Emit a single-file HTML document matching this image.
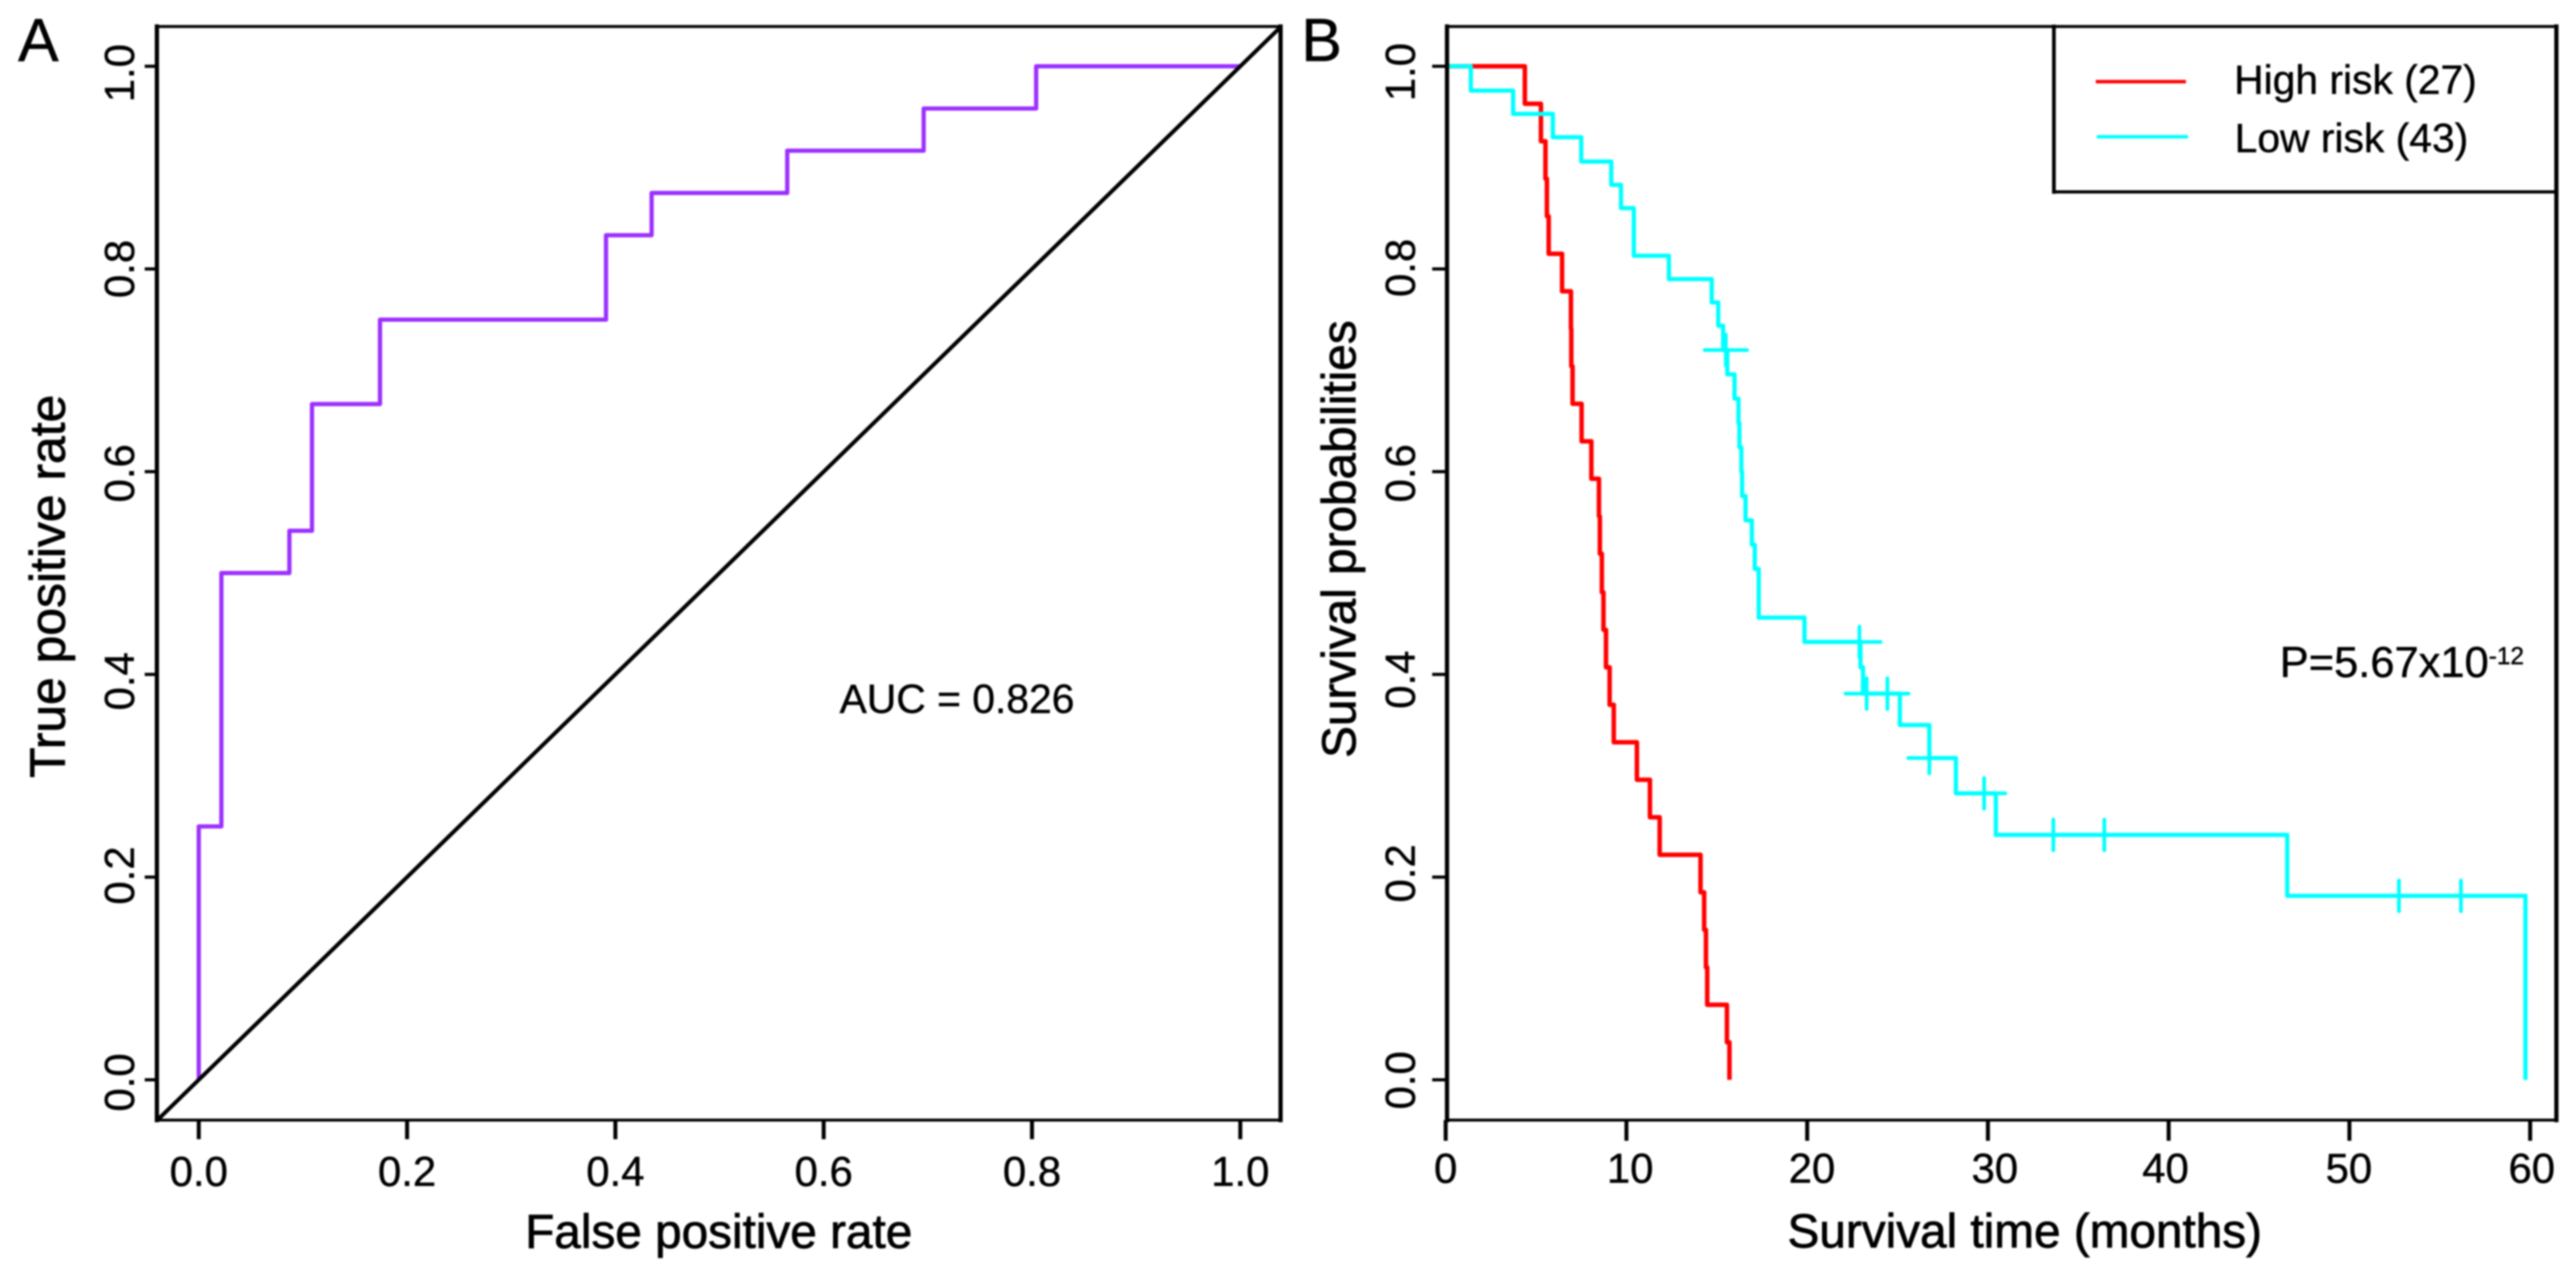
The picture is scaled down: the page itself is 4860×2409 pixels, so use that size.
<!DOCTYPE html>
<html lang="en">
<head>
<meta charset="utf-8">
<title>ROC curve and Kaplan-Meier survival curves</title>
<style>
html,body{margin:0;padding:0;background:#fff;}
body{width:4860px;height:2409px;overflow:hidden;}
svg{display:block;filter:blur(1.5px);}
text{font-family:"Liberation Sans",Arial,sans-serif;fill:#000;stroke:#000;stroke-width:0.8px;}
.tick{font-size:79px;}
.title{font-size:90px;stroke-width:1.4px;}
.letter{font-size:115px;}
.note{font-size:77px;}
</style>
</head>
<body>
<svg id="figure" xmlns="http://www.w3.org/2000/svg" width="4860" height="2409" viewBox="0 0 4860 2409">
  <rect x="0" y="0" width="4860" height="2409" fill="#fff"/>
  <defs>
    <clipPath id="clip-a"><rect x="296" y="50" width="2120" height="2063"/></clipPath>
  </defs>

  <g id="panel-a">
    <text class="letter" x="34" y="115">A</text>
    <g id="a-series" clip-path="url(#clip-a)"></g>
    <g id="a-axes"></g>
    <line x1="296" y1="50" x2="2416" y2="50" stroke="#000" stroke-width="5.5" stroke-linecap="square"/>
    <line x1="296" y1="2113" x2="2416" y2="2113" stroke="#000" stroke-width="5.5" stroke-linecap="square"/>
    <line x1="296" y1="50" x2="296" y2="2113" stroke="#000" stroke-width="8" stroke-linecap="square"/>
    <line x1="2416" y1="50" x2="2416" y2="2113" stroke="#000" stroke-width="8" stroke-linecap="square"/>
    <text class="title" x="1356" y="2354" text-anchor="middle">False positive rate</text>
    <text class="title" style="font-size:94px" transform="translate(122,1106) rotate(-90)" text-anchor="middle">True positive rate</text>
    <text class="note" x="1584" y="1345">AUC = 0.826</text>
  </g>

  <g id="panel-b">
    <text class="letter" x="2455" y="115">B</text>
    <g id="b-series"></g>
    <g id="b-axes"></g>
    <line x1="2730" y1="50" x2="4823" y2="50" stroke="#000" stroke-width="5.5" stroke-linecap="square"/>
    <line x1="2730" y1="2113" x2="4823" y2="2113" stroke="#000" stroke-width="5.5" stroke-linecap="square"/>
    <line x1="2730" y1="50" x2="2730" y2="2113" stroke="#000" stroke-width="8" stroke-linecap="square"/>
    <line x1="4823" y1="50" x2="4823" y2="2113" stroke="#000" stroke-width="8" stroke-linecap="square"/>
    <text class="title" x="3820" y="2353" text-anchor="middle">Survival time (months)</text>
    <text class="title" transform="translate(2557,1017) rotate(-90)" text-anchor="middle">Survival probabilities</text>
    <g id="legend">
      <line x1="3875" y1="50" x2="3875" y2="362" stroke="#000" stroke-width="7" stroke-linecap="square"/>
      <line x1="3875" y1="362" x2="4823" y2="362" stroke="#000" stroke-width="6" stroke-linecap="square"/>
      <line x1="3954" y1="154" x2="4124" y2="154" stroke="#ff0000" stroke-width="6.5"/>
      <line x1="3956" y1="258" x2="4128" y2="258" stroke="#00ffff" stroke-width="6.5"/>
      <text class="note" x="4215" y="177">High risk (27)</text>
      <text class="note" x="4216" y="287">Low risk (43)</text>
    </g>
    <text x="4301" y="1277" style="font-size:82px">P=5.67x10<tspan dy="-24" style="font-size:46px">-12</tspan></text>
  </g>
</svg>

<script>
// ROC chart data
const rocFpr = [0, 0.0217, 0.087, 0.1087, 0.174, 0.391, 0.4348, 0.565, 0.696, 0.804];
const rocTpr = [0.25, 0.5, 0.5417, 0.6667, 0.75, 0.8333, 0.875, 0.9167, 0.9583, 1.0];
const rocEnd = 1.0;
const diagonalEnds = [-0.04, 1.04];
const rocXTicks = [0, 0.2, 0.4, 0.6, 0.8, 1.0];
const rocYTicks = [0, 0.2, 0.4, 0.6, 0.8, 1.0];

// Survival chart data
const highTimes = [4.38, 5.27, 5.52, 5.6, 5.7, 6.44, 6.93, 6.95, 7.02, 7.52, 8.06, 8.48, 8.53, 8.64, 8.73, 8.87, 9.07, 9.3, 10.58, 11.3, 11.84, 14.1, 14.3, 14.4, 14.47, 15.56, 15.7];
const highSurvival = [0.963, 0.926, 0.889, 0.852, 0.815, 0.778, 0.741, 0.704, 0.667, 0.63, 0.593, 0.556, 0.519, 0.481, 0.444, 0.407, 0.37, 0.333, 0.296, 0.259, 0.222, 0.185, 0.148, 0.111, 0.074, 0.037, 0];
const lowTimes = [1.39, 3.73, 5.93, 7.5, 9.16, 9.7, 10.41, 12.35, 14.72, 15.08, 15.35, 15.58, 15.98, 16.2, 16.25, 16.36, 16.4, 16.59, 16.94, 17.1, 17.32, 19.85, 22.95, 23.09, 25.13, 26.76, 28.23, 30.44, 46.56, 59.74];
const lowSurvival = [0.976, 0.953, 0.93, 0.906, 0.883, 0.86, 0.813, 0.79, 0.767, 0.744, 0.72, 0.696, 0.672, 0.648, 0.624, 0.6, 0.576, 0.552, 0.528, 0.504, 0.456, 0.432, 0.407, 0.381, 0.35, 0.3175, 0.2826, 0.2416, 0.1815, 0];
const censorTimes = [15.5, 22.89, 23.29, 24.44, 26.76, 29.79, 33.62, 36.44, 52.74, 56.17];
const censorSurvival = [0.72, 0.432, 0.381, 0.381, 0.3175, 0.2826, 0.2416, 0.2416, 0.1815, 0.1815];
const survivalXTicks = [0, 10, 20, 30, 40, 50, 60];
const survivalYTicks = [0, 0.2, 0.4, 0.6, 0.8, 1.0];

const SVG_NS = 'http://www.w3.org/2000/svg';

// Axis functions
function xRoc(v) { return 375 + 1965 * v; }
function yRoc(v) { return 2037 - 1912 * v; }
function xSurv(t) { return 2727.5 + 34.1 * t; }
function ySurv(v) { return 2037 - 1912 * v; }

// Hand-placement offsets of printed labels in the source figure
function rocYLabelShift(v) { return {'1.0': 13, '0.8': 0, '0.6': 3, '0.4': 13, '0.2': -3, '0.0': 5}[v.toFixed(1)]; }
function survYLabelShift(v) { return {'1.0': 11, '0.8': -2, '0.6': 3, '0.4': 10, '0.2': -7, '0.0': 1}[v.toFixed(1)]; }
function survXLabelShift(t) { return {0: 0, 10: 7, 20: 9, 30: 13, 40: -6, 50: -1, 60: 3}[t]; }

function make(tag, parent, attrs) {
  const el = document.createElementNS(SVG_NS, tag);
  for (const k in attrs) el.setAttribute(k, attrs[k]);
  parent.appendChild(el);
  return el;
}

function kmPath(times, surv, xf, yf) {
  let d = 'M' + xf(0) + ' ' + yf(1);
  for (let i = 0; i < times.length; i++) {
    d += 'H' + xf(times[i]) + 'V' + yf(surv[i]);
  }
  return d;
}

function rocPath() {
  let d = 'M' + xRoc(rocFpr[0]) + ' ' + yRoc(0);
  for (let i = 0; i < rocFpr.length; i++) {
    d += 'H' + xRoc(rocFpr[i]) + 'V' + yRoc(rocTpr[i]);
  }
  d += 'H' + xRoc(rocEnd);
  return d;
}

const aSeries = document.getElementById('a-series');
const aAxes = document.getElementById('a-axes');
const bSeries = document.getElementById('b-series');
const bAxes = document.getElementById('b-axes');

// Panel A: ROC
const rocLine = make('path', aSeries, {d: rocPath(), fill: 'none', stroke: '#9b30ff', 'stroke-width': 8, 'stroke-linejoin': 'round'});



const diagLine = make('line', aSeries, {x1: xRoc(diagonalEnds[0]), y1: yRoc(diagonalEnds[0]), x2: xRoc(diagonalEnds[1]), y2: yRoc(diagonalEnds[1]), stroke: '#000', 'stroke-width': 7.5});



rocXTicks.forEach(function (v) {
  const t = make('line', aAxes, {x1: xRoc(v), y1: 2113, x2: xRoc(v), y2: 2149, stroke: '#000', 'stroke-width': 7.5});
  
  
  const l = make('text', aAxes, {x: xRoc(v), y: 2237, 'text-anchor': 'middle', class: 'tick'});
  l.textContent = v.toFixed(1);
  
  
});
rocYTicks.forEach(function (v) {
  const t = make('line', aAxes, {x1: 273, y1: yRoc(v), x2: 296, y2: yRoc(v), stroke: '#000', 'stroke-width': 6});
  
  
  const l = make('text', aAxes, {transform: 'translate(252.5,' + (yRoc(v) + rocYLabelShift(v)) + ') rotate(-90)', 'text-anchor': 'middle', class: 'tick'});
  l.textContent = v.toFixed(1);
  
  
});

// Panel B: survival
const highLine = make('path', bSeries, {d: kmPath(highTimes, highSurvival, xSurv, ySurv), fill: 'none', stroke: '#ff0000', 'stroke-width': 8.5, 'stroke-linejoin': 'round'});



const lowLine = make('path', bSeries, {d: kmPath(lowTimes, lowSurvival, xSurv, ySurv), fill: 'none', stroke: '#00ffff', 'stroke-width': 8, 'stroke-linejoin': 'round'});



censorTimes.forEach(function (t, i) {
  const cx = xSurv(t), cy = ySurv(censorSurvival[i]);
  const mark = make('path', bSeries, {d: 'M' + (cx - 40) + ' ' + cy + 'H' + (cx + 40) + 'M' + cx + ' ' + (cy - 29) + 'V' + (cy + 29), fill: 'none', stroke: '#00ffff', 'stroke-width': 7, 'stroke-linecap': 'round'});
  
  
});

survivalXTicks.forEach(function (v) {
  const t = make('line', bAxes, {x1: xSurv(v), y1: 2113, x2: xSurv(v), y2: 2152, stroke: '#000', 'stroke-width': 7.5});
  
  
  const l = make('text', bAxes, {x: xSurv(v) + survXLabelShift(v), y: 2231, 'text-anchor': 'middle', class: 'tick'});
  l.textContent = String(v);
  
  
});
survivalYTicks.forEach(function (v) {
  const t = make('line', bAxes, {x1: 2702, y1: ySurv(v), x2: 2730, y2: ySurv(v), stroke: '#000', 'stroke-width': 6});
  
  
  const l = make('text', bAxes, {transform: 'translate(2669,' + (ySurv(v) + survYLabelShift(v)) + ') rotate(-90)', 'text-anchor': 'middle', class: 'tick'});
  l.textContent = v.toFixed(1);
  
  
});
</script>
</body>
</html>
